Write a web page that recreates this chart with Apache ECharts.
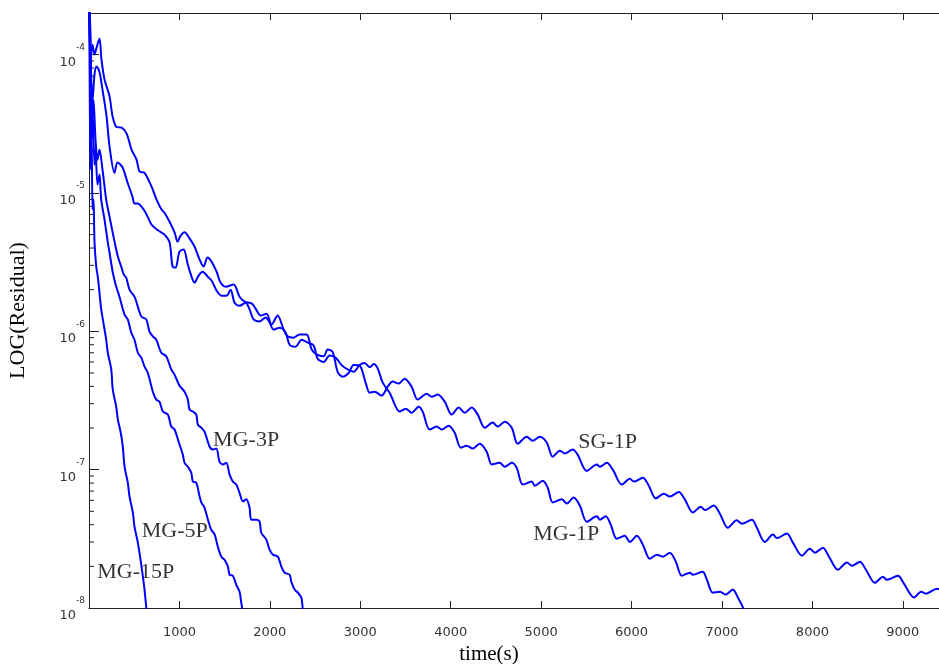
<!DOCTYPE html>
<html>
<head>
<meta charset="utf-8">
<script src="https://cdn.jsdelivr.net/npm/echarts@6/dist/echarts.min.js"></script>
<style>
  html, body { margin: 0; padding: 0; background: #ffffff; }
  #chart { width: 939px; height: 664px; }
</style>
</head>
<body>
<div id="chart"></div>
<script>
// Residual history [time (s), residual] for each solver configuration.
const sg1p = [
  [0, 3e-4], [17, 9.2e-5], [39, 1.18e-4], [61, 1.0e-4], [83, 1.12e-4], [116, 1.31e-4],
  [138, 9.2e-5], [172, 6.6e-5], [227, 5.0e-5], [260, 3.6e-5], [304, 3.0e-5], [360, 2.97e-5],
  [415, 2.7e-5], [470, 2.06e-5], [526, 1.74e-5], [559, 1.43e-5], [614, 1.40e-5], [692, 1.11e-5],
  [747, 8.96e-6], [802, 7.6e-6], [835, 7.2e-6], [891, 6.2e-6], [946, 5.2e-6], [979, 4.45e-6],
  [1012, 4.9e-6], [1057, 5.2e-6], [1112, 4.7e-6], [1167, 4.1e-6], [1223, 3.3e-6], [1267, 2.94e-6],
  [1311, 3.41e-6], [1355, 3.19e-6], [1411, 2.70e-6], [1455, 2.25e-6], [1510, 2.1e-6], [1599, 2.18e-6],
  [1665, 1.78e-6], [1721, 1.64e-6], [1798, 1.59e-6], [1842, 1.46e-6], [1898, 1.30e-6], [1964, 1.34e-6],
  [2019, 1.12e-6], [2086, 1.30e-6], [2152, 1.03e-6], [2196, 9.2e-7], [2263, 9.0e-7], [2329, 9.5e-7],
  [2407, 9.5e-7], [2462, 7.4e-7], [2517, 6.8e-7], [2595, 6.6e-7], [2639, 7.4e-7], [2694, 7.1e-7],
  [2750, 5.1e-7], [2805, 4.7e-7], [2871, 5.0e-7], [2927, 5.7e-7], [2993, 5.65e-7], [3059, 4.26e-7],
  [3104, 3.6e-7], [3159, 3.66e-7], [3237, 3.43e-7], [3303, 3.98e-7], [3358, 4.33e-7], [3425, 4.19e-7],
  [3491, 4.55e-7], [3568, 3.98e-7], [3635, 3.21e-7], [3734, 3.54e-7], [3790, 3.37e-7], [3856, 3.49e-7],
  [3934, 3.10e-7], [4011, 2.50e-7], [4089, 2.81e-7], [4155, 2.58e-7], [4232, 2.81e-7], [4299, 2.50e-7],
  [4376, 2.01e-7], [4465, 2.19e-7], [4520, 2.05e-7], [4598, 2.22e-7], [4675, 2.01e-7], [4741, 1.54e-7],
  [4841, 1.73e-7], [4907, 1.62e-7], [4985, 1.73e-7], [5062, 1.57e-7], [5129, 1.24e-7], [5206, 1.37e-7],
  [5262, 1.31e-7], [5350, 1.40e-7], [5405, 1.28e-7], [5505, 9.8e-8], [5616, 1.09e-7], [5649, 1.05e-7],
  [5726, 1.12e-7], [5793, 1.0e-7], [5892, 7.8e-8], [5981, 8.6e-8], [6025, 8.2e-8], [6125, 8.75e-8],
  [6191, 7.66e-8], [6268, 6.2e-8], [6357, 6.7e-8], [6423, 6.4e-8], [6523, 6.9e-8], [6589, 6.1e-8],
  [6678, 4.9e-8], [6766, 5.4e-8], [6811, 5.1e-8], [6910, 5.5e-8], [6977, 4.8e-8], [7065, 3.8e-8],
  [7164, 4.3e-8], [7220, 4.07e-8], [7331, 4.35e-8], [7386, 3.8e-8], [7474, 3.0e-8], [7563, 3.4e-8],
  [7607, 3.2e-8], [7718, 3.45e-8], [7784, 2.97e-8], [7884, 2.39e-8], [7972, 2.68e-8], [8028, 2.51e-8],
  [8116, 2.73e-8], [8183, 2.35e-8], [8282, 1.89e-8], [8382, 2.13e-8], [8437, 2.02e-8], [8526, 2.16e-8],
  [8592, 1.89e-8], [8692, 1.52e-8], [8780, 1.68e-8], [8825, 1.60e-8], [8946, 1.71e-8], [9012, 1.50e-8],
  [9125, 1.19e-8], [9201, 1.31e-8], [9256, 1.27e-8], [9378, 1.38e-8], [9400, 1.36e-8]
];

const mg1p = [
  [0, 3e-4], [17, 7.8e-5], [39, 4.7e-5], [61, 7.2e-5], [83, 8.2e-5], [116, 7.5e-5],
  [149, 5.6e-5], [194, 3.6e-5], [227, 2.17e-5], [282, 1.40e-5], [315, 1.66e-5], [371, 1.53e-5],
  [426, 1.19e-5], [481, 9.4e-6], [503, 8.4e-6], [537, 8.4e-6], [592, 7.8e-6], [636, 7.0e-6],
  [692, 5.9e-6], [758, 5.4e-6], [835, 5.0e-6], [891, 4.4e-6], [924, 2.94e-6], [957, 2.89e-6],
  [1001, 3.77e-6], [1046, 3.9e-6], [1090, 3.09e-6], [1123, 2.61e-6], [1167, 2.25e-6], [1212, 2.53e-6],
  [1256, 2.70e-6], [1311, 2.49e-6], [1355, 2.33e-6], [1411, 1.97e-6], [1466, 1.81e-6], [1521, 1.81e-6],
  [1566, 2.0e-6], [1610, 1.61e-6], [1665, 1.53e-6], [1732, 1.61e-6], [1776, 1.44e-6], [1820, 1.22e-6],
  [1887, 1.18e-6], [1953, 1.26e-6], [1997, 1.16e-6], [2041, 1.03e-6], [2108, 1.06e-6], [2174, 9.8e-7],
  [2219, 8.0e-7], [2285, 7.75e-7], [2351, 8.7e-7], [2418, 8.3e-7], [2484, 7.9e-7], [2528, 6.35e-7],
  [2595, 6.0e-7], [2661, 6.7e-7], [2728, 6.45e-7], [2794, 5.7e-7], [2860, 5.3e-7], [2927, 5.1e-7],
  [2993, 5.7e-7], [3048, 5.9e-7], [3104, 5.5e-7], [3148, 5.8e-7], [3192, 5.4e-7], [3248, 4.26e-7],
  [3325, 3.6e-7], [3436, 2.63e-7], [3502, 2.76e-7], [3568, 2.58e-7], [3646, 2.85e-7], [3690, 2.63e-7],
  [3768, 1.95e-7], [3845, 2.05e-7], [3900, 1.95e-7], [3978, 2.08e-7], [4044, 1.85e-7], [4111, 1.44e-7],
  [4177, 1.49e-7], [4243, 1.42e-7], [4321, 1.54e-7], [4398, 1.35e-7], [4454, 1.09e-7], [4542, 1.12e-7],
  [4598, 1.05e-7], [4675, 1.12e-7], [4730, 1.03e-7], [4797, 7.8e-8], [4896, 8.2e-8], [4930, 7.66e-8],
  [5018, 8.3e-8], [5073, 7.4e-8], [5129, 5.8e-8], [5228, 6.1e-8], [5284, 5.7e-8], [5361, 6.3e-8],
  [5428, 5.5e-8], [5505, 4.2e-8], [5616, 4.6e-8], [5649, 4.35e-8], [5715, 4.6e-8], [5770, 4.0e-8],
  [5836, 3.17e-8], [5925, 3.33e-8], [5981, 3.0e-8], [6058, 3.33e-8], [6125, 2.87e-8], [6202, 2.27e-8],
  [6280, 2.43e-8], [6346, 2.35e-8], [6423, 2.51e-8], [6490, 2.16e-8], [6556, 1.71e-8], [6645, 1.80e-8],
  [6678, 1.74e-8], [6787, 1.83e-8], [6833, 1.60e-8], [6899, 1.29e-8], [6977, 1.31e-8], [7043, 1.25e-8],
  [7120, 1.36e-8], [7176, 1.19e-8], [7234, 1.0e-8], [7260, 8.5e-9]
];

const mg3p = [
  [0, 3e-4], [17, 1.09e-4], [39, 3.4e-5], [50, 4.7e-5], [72, 2.43e-5], [94, 1.74e-5],
  [116, 2.06e-5], [149, 1.48e-5], [190, 8.96e-6], [227, 6.75e-6], [271, 4.84e-6], [319, 3.47e-6],
  [356, 2.94e-6], [385, 2.57e-6], [412, 2.44e-6], [448, 2.0e-6], [503, 1.78e-6], [540, 1.51e-6],
  [578, 1.28e-6], [633, 1.22e-6], [669, 9.95e-7], [706, 9.2e-7], [744, 8.7e-7], [799, 7.0e-7],
  [854, 6.6e-7], [910, 5.3e-7], [946, 4.86e-7], [1001, 4.05e-7], [1057, 3.66e-7], [1093, 3.21e-7],
  [1112, 2.72e-7], [1149, 2.63e-7], [1186, 2.50e-7], [1204, 2.12e-7], [1242, 2.01e-7], [1278, 1.88e-7],
  [1333, 1.47e-7], [1370, 1.40e-7], [1408, 1.42e-7], [1444, 1.14e-7], [1481, 1.09e-7], [1518, 1.12e-7],
  [1555, 9.2e-8], [1591, 8.2e-8], [1629, 7.8e-8], [1665, 6.8e-8], [1702, 5.9e-8], [1739, 6.1e-8],
  [1776, 5.3e-8], [1795, 4.35e-8], [1850, 4.35e-8], [1887, 4.2e-8], [1905, 3.5e-8], [1961, 3.12e-8],
  [1997, 2.64e-8], [2034, 2.43e-8], [2089, 2.35e-8], [2127, 1.99e-8], [2163, 1.80e-8], [2219, 1.74e-8],
  [2237, 1.55e-8], [2274, 1.36e-8], [2310, 1.29e-8], [2348, 1.19e-8], [2359, 1.06e-8], [2370, 9e-9]
];

const mg5p = [
  [0, 3e-4], [17, 1.29e-4], [28, 2.43e-5], [39, 4.0e-5], [61, 1.6e-5], [72, 2.06e-5],
  [94, 1.15e-5], [116, 1.36e-5], [135, 8.96e-6], [172, 6.4e-6], [208, 4.4e-6], [227, 3.7e-6],
  [263, 2.66e-6], [301, 2.1e-6], [337, 1.78e-6], [393, 1.32e-6], [429, 1.22e-6], [467, 9.8e-7],
  [503, 8.7e-7], [540, 7.0e-7], [578, 6.45e-7], [614, 5.56e-7], [651, 5.0e-7], [706, 3.66e-7],
  [744, 3.21e-7], [780, 3.10e-7], [817, 2.63e-7], [872, 2.50e-7], [910, 2.05e-7], [946, 1.95e-7],
  [1001, 1.52e-7], [1038, 1.28e-7], [1057, 1.12e-7], [1093, 1.05e-7], [1131, 9.5e-8], [1149, 8.2e-8],
  [1186, 8.05e-8], [1223, 6.4e-8], [1242, 5.8e-8], [1278, 5.3e-8], [1315, 4.35e-8], [1352, 3.68e-8],
  [1389, 3.4e-8], [1425, 2.77e-8], [1463, 2.35e-8], [1499, 2.23e-8], [1536, 1.99e-8], [1555, 1.74e-8],
  [1591, 1.71e-8], [1629, 1.47e-8], [1665, 1.31e-8], [1684, 1.09e-8], [1691, 1.02e-8], [1700, 9e-9]
];

const mg15p = [
  [0, 3e-4], [6, 9.2e-5], [17, 1.48e-5], [28, 2.87e-5], [39, 7.6e-6], [50, 8.96e-6],
  [61, 4.4e-6], [80, 2.94e-6], [97, 2.49e-6], [116, 1.9e-6], [135, 1.44e-6], [153, 1.22e-6],
  [190, 8.7e-7], [208, 7.0e-7], [246, 5.3e-7], [263, 3.79e-7], [301, 2.85e-7], [319, 2.3e-7],
  [349, 1.88e-7], [374, 1.47e-7], [393, 1.05e-7], [429, 8.05e-8], [448, 6.4e-8], [485, 4.89e-8],
  [503, 3.87e-8], [540, 2.97e-8], [570, 2.23e-8], [595, 1.71e-8], [614, 1.36e-8], [633, 1.02e-8],
  [645, 9e-9]
];

// In-plot curve captions and the point each caption starts from.
const captionText = ['MG-3P', 'SG-1P', 'MG-1P', 'MG-5P', 'MG-15P'];
const captionTime = [1367, 5405, 4907, 578, 86];
const captionResidual = [1.62e-7, 1.57e-7, 3.4e-8, 3.56e-8, 1.80e-8];

// Axis ranges and log-axis decades.
const timeMax = 9400;
const timeStep = 1000;
const residualMin = 1e-8;
const residualMax = 2e-4;
const decades = [1e-8, 1e-7, 1e-6, 1e-5, 1e-4];
const minorMantissas = [2, 3, 4, 5, 6, 7, 8, 9];

const minorTickValues = [];
decades.forEach(function (d) {
  minorMantissas.forEach(function (m) {
    const v = m * d;
    if (v < residualMax) minorTickValues.push([0, v]);
  });
});

const curves = [
  { name: 'SG-1P', data: sg1p },
  { name: 'MG-1P', data: mg1p },
  { name: 'MG-3P', data: mg3p },
  { name: 'MG-5P', data: mg5p },
  { name: 'MG-15P', data: mg15p }
];

const axisColor = '#222222';
const tickFont = 'DejaVu Sans';
const serifFont = 'Liberation Serif';

const chart = echarts.init(document.getElementById('chart'), null, { renderer: 'canvas' });

const lineSeries = curves.map(function (c) {
  return {
    name: c.name,
    type: 'line',
    data: c.data,
    showSymbol: false,
    symbol: 'none',
    smooth: 0.3,
    clip: true,
    silent: true,
    z: 3,
    lineStyle: { color: '#0000ff', width: 2, join: 'round' }
  };
});

const option = {
  animation: false,
  backgroundColor: '#ffffff',
  grid: { left: 89, right: 0, top: 13, bottom: 56, containLabel: false, outerBoundsMode: 'none' },
  xAxis: [
    {
      type: 'value',
      position: 'bottom',
      min: 0,
      max: timeMax,
      interval: timeStep,
      name: 'time(s)',
      nameLocation: 'middle',
      nameGap: 33,
      nameTextStyle: { fontFamily: serifFont, fontSize: 21, color: '#000', padding: [0, 50, 0, 0] },
      axisLine: { show: true, onZero: false, lineStyle: { color: axisColor, width: 1 } },
      axisTick: { show: true, inside: true, length: 7, lineStyle: { color: axisColor } },
      axisLabel: {
        show: true, showMinLabel: false, showMaxLabel: false, margin: 18,
        fontFamily: tickFont, fontSize: 13, color: '#333',
        formatter: function (v) { return String(v); }
      },
      splitLine: { show: false }
    },
    {
      type: 'value',
      position: 'top',
      min: 0,
      max: timeMax,
      interval: timeStep,
      axisLine: { show: true, onZero: false, lineStyle: { color: axisColor, width: 1 } },
      axisTick: { show: true, inside: true, length: 7, lineStyle: { color: axisColor } },
      axisLabel: { show: false },
      splitLine: { show: false }
    }
  ],
  yAxis: [
    {
      type: 'log',
      logBase: 10,
      min: residualMin,
      max: residualMax,
      name: 'LOG(Residual)',
      nameLocation: 'middle',
      nameGap: 60,
      nameTextStyle: { fontFamily: serifFont, fontSize: 22, color: '#000' },
      axisLine: { show: true, onZero: false, lineStyle: { color: axisColor, width: 1 } },
      axisTick: { show: true, inside: true, length: 10, lineStyle: { color: axisColor } },
      minorTick: { show: false },
      axisLabel: {
        show: true,
        showMaxLabel: false,
        margin: 4,
        formatter: function (value) {
          const exp = Math.round(Math.log10(value));
          return '{b|10}{e|' + exp + '}';
        },
        rich: {
          b: { fontFamily: tickFont, fontSize: 13, color: '#333', padding: [15, 0, 0, 0] },
          e: { fontFamily: tickFont, fontSize: 9, color: '#333', padding: [0, 0, 14, 0] }
        }
      },
      splitLine: { show: false }
    }
  ],
  series: [
    {
      name: 'captions',
      type: 'scatter',
      data: captionTime.map(function (t, i) { return [t, captionResidual[i], captionText[i]]; }),
      symbolSize: 1,
      itemStyle: { color: 'rgba(0,0,0,0)' },
      silent: true,
      z: 1,
      label: {
        show: true,
        position: 'right',
        distance: 0,
        formatter: function (p) { return p.data[2]; },
        fontFamily: serifFont,
        fontSize: 22,
        color: '#000'
      }
    },
    {
      name: 'minor ticks',
      type: 'custom',
      coordinateSystem: 'cartesian2d',
      data: minorTickValues,
      silent: true,
      clip: false,
      z: 2,
      renderItem: function (params, api) {
        const p = api.coord([api.value(0), api.value(1)]);
        return {
          type: 'line',
          shape: { x1: p[0], y1: p[1], x2: p[0] + 5, y2: p[1] },
          style: { stroke: axisColor, lineWidth: 1 }
        };
      }
    }
  ].concat(lineSeries)
};

chart.setOption(option);
</script>
</body>
</html>
